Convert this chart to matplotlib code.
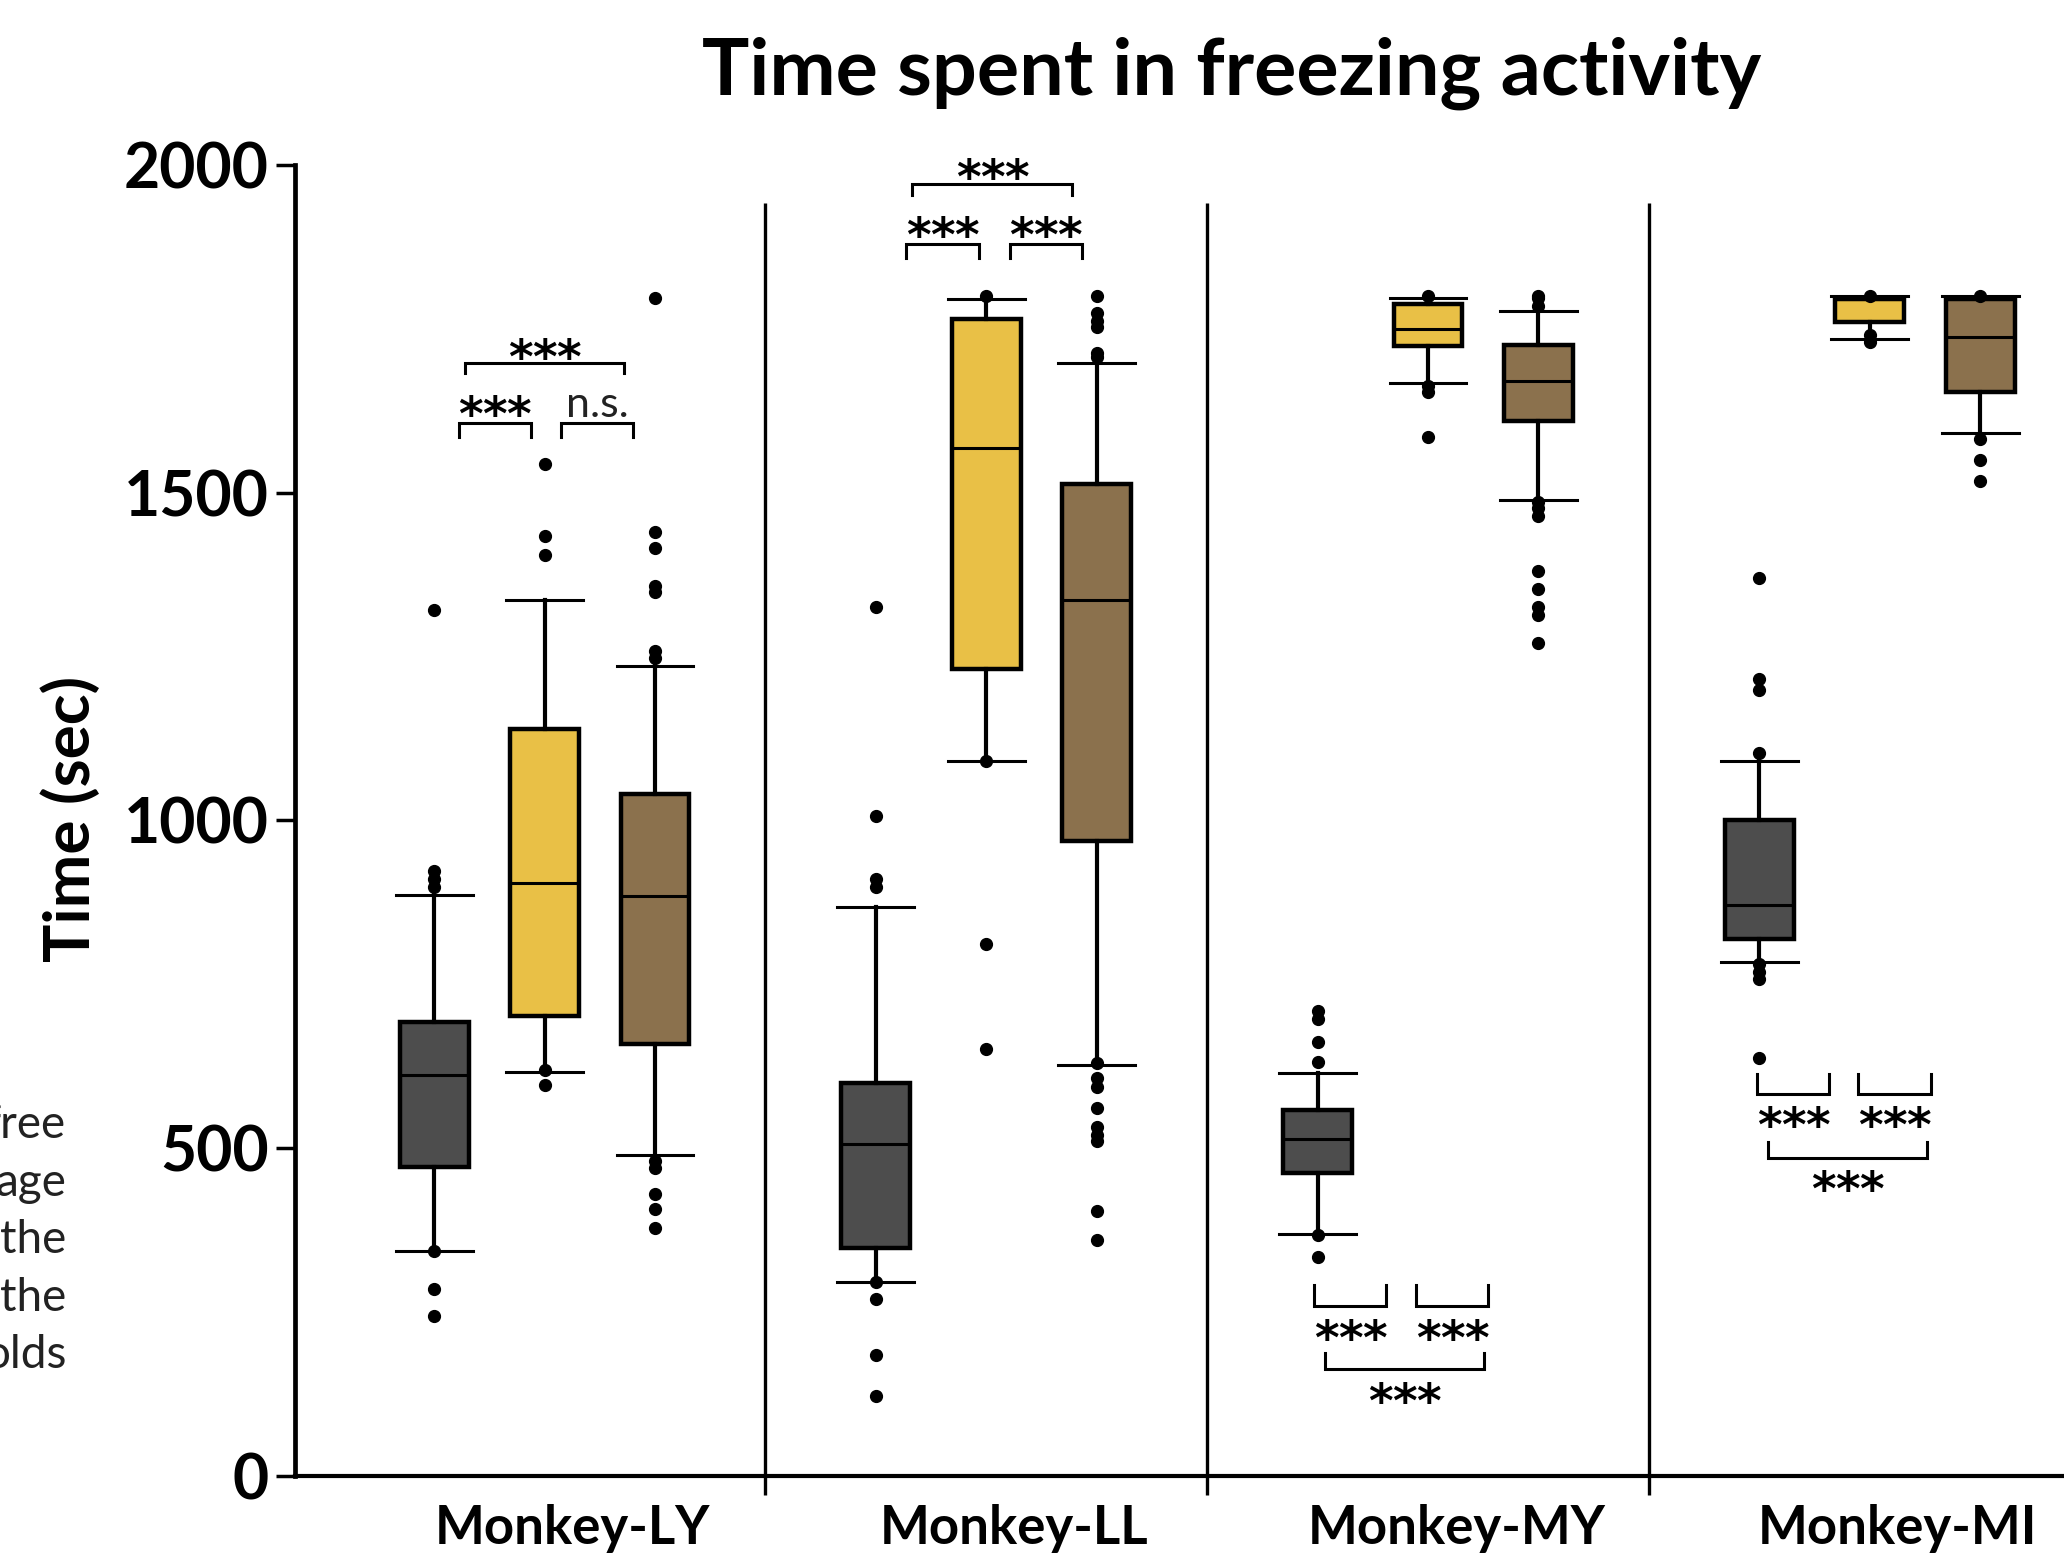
import matplotlib
matplotlib.use("Agg")
import matplotlib.pyplot as plt

# ---------------- data ----------------
monkeys = ["Monkey-LY", "Monkey-LL", "Monkey-MY", "Monkey-MI"]
conditions = ["cond_dark", "cond_yellow", "cond_brown"]

dark_lo = [344, 297, 370, 784]
dark_q1 = [471, 348, 462, 820]
dark_med = [612, 506, 515, 871]
dark_q3 = [693, 599, 558, 1000]
dark_hi = [887, 868, 615, 1090]
dark_fliers = [
    [1321, 923, 910, 899, 344, 285, 244],
    [1325, 1007, 910, 899, 297, 271, 185, 122],
    [709, 698, 662, 632, 368, 334],
    [1370, 1216, 1199, 1103, 781, 769, 758, 638],
]

yellow_lo = [617, 1090, 1667, 1734]
yellow_q1 = [702, 1231, 1723, 1760]
yellow_med = [905, 1568, 1750, 1795]
yellow_q3 = [1140, 1765, 1788, 1795]
yellow_hi = [1336, 1795, 1797, 1800]
yellow_fliers = [
    [1544, 1434, 1404, 620, 597],
    [1800, 1090, 812, 652],
    [1800, 1662, 1654, 1584],
    [1800, 1740, 1729],
]

brown_lo = [490, 627, 1489, 1590]
brown_q1 = [659, 968, 1609, 1653]
brown_med = [885, 1336, 1670, 1737]
brown_q3 = [1040, 1513, 1725, 1795]
brown_hi = [1236, 1697, 1777, 1800]
brown_fliers = [
    [1796, 1440, 1416, 1358, 1348, 1259, 1248, 480, 470, 431, 407, 378],
    [1799, 1773, 1761, 1752, 1713, 1707, 630, 607, 593, 562, 533, 521, 511, 405, 360],
    [1800, 1796, 1785, 1486, 1477, 1464, 1381, 1353, 1326, 1313, 1270],
    [1800, 1581, 1549, 1517],
]

yticks = [0, 500, 1000, 1500, 2000]

# significance annotations per monkey: (label, x0, x1, bar_y, leg_end_y, text_y)
sig_marks = [
    [("***", -0.194, -0.031, 1606, 1585, 1630),
     ("n.s.", 0.037, 0.200, 1606, 1585, 1630),
     ("***", -0.180, 0.180, 1697, 1682, 1717)],
    [("***", -0.181, -0.017, 1879, 1858, 1904),
     ("***", 0.053, 0.216, 1879, 1858, 1904),
     ("***", -0.167, 0.193, 1971, 1953, 1991)],
    [("***", -0.258, -0.095, 259, 291, 221),
     ("***", -0.027, 0.136, 259, 291, 221),
     ("***", -0.234, 0.127, 163, 188, 126)],
    [("***", -0.255, -0.092, 583, 614, 546),
     ("***", -0.026, 0.139, 583, 614, 546),
     ("***", -0.230, 0.130, 486, 510, 449)],
]

caption_fragments = ["free", "age", "the", "the", "olds"]

# ---------------- style ----------------
colors = {"dark": "#4d4d4d", "yellow": "#e9c046", "brown": "#8b714d"}
FONT = "Lato"

fig = plt.figure(figsize=(20.64, 15.67), dpi=100)
ax = fig.add_axes([295 / 2064, 1 - 1476.3 / 1567, 1 - 295 / 2064, (1476.3 - 164.6) / 1567])

series = [
    ("dark", dark_lo, dark_q1, dark_med, dark_q3, dark_hi, dark_fliers, -0.25),
    ("yellow", yellow_lo, yellow_q1, yellow_med, yellow_q3, yellow_hi, yellow_fliers, 0.0),
    ("brown", brown_lo, brown_q1, brown_med, brown_q3, brown_hi, brown_fliers, 0.25),
]

for name, lo, q1, med, q3, hi, fl, off in series:
    stats = []
    for i in range(len(monkeys)):
        stats.append(dict(whislo=lo[i], q1=q1[i], med=med[i], q3=q3[i],
                          whishi=hi[i], fliers=fl[i]))
    pos = [i + off for i in range(len(monkeys))]
    bp = ax.bxp(stats, positions=pos, widths=0.156, capwidths=0.174,
                showfliers=True, patch_artist=True,
                boxprops=dict(facecolor=colors[name], edgecolor="black", linewidth=3.2),
                medianprops=dict(color="black", linewidth=2.2),
                whiskerprops=dict(color="black", linewidth=3.0),
                capprops=dict(color="black", linewidth=2.2),
                flierprops=dict(marker="o", markerfacecolor="black",
                                markeredgecolor="black", markersize=8.5))
    for b in bp["boxes"]:
        b.set_zorder(3)
    for key in ("medians", "whiskers", "caps", "fliers"):
        for a in bp[key]:
            a.set_zorder(4)

# separators between monkeys
for i in range(len(monkeys) - 1):
    ax.plot([i + 0.5, i + 0.5], [-29, 1941], color="black", lw=2.4,
            clip_on=False, solid_capstyle="butt")

# significance brackets
STAR_STEP = 0.0543
for i, marks in enumerate(sig_marks):
    for label, x0, x1, by, ly, ty in marks:
        ax.plot([i + x0, i + x0, i + x1, i + x1], [ly, by, by, ly],
                color="black", lw=2.2, clip_on=False, solid_joinstyle="miter")
        xm = i + (x0 + x1) / 2
        if label == "n.s.":
            ax.text(xm, ty - 15, label, ha="center", va="baseline",
                    fontsize=31, family=FONT, color="#222222")
        else:
            n = len(label)
            for k, ch in enumerate(label):
                ax.text(xm + (k - (n - 1) / 2) * STAR_STEP, ty - 35, ch,
                        ha="center", va="baseline", fontsize=34,
                        fontweight="bold", family="DejaVu Sans", color="black")

ax.set_xlim(-0.565, 3.44)
ax.set_ylim(0, 2000)
ax.set_yticks(yticks)
ax.set_yticklabels([str(v) for v in yticks], fontsize=45, fontweight="bold", family=FONT)
ax.tick_params(axis="y", length=14, width=2.5, pad=5, direction="out")

ax.set_xticks([i + 0.064 for i in range(len(monkeys))])
ax.set_xticklabels(monkeys, fontsize=38, fontweight="bold", family=FONT)
ax.tick_params(axis="x", length=0, pad=20)

for s in ("top", "right"):
    ax.spines[s].set_visible(False)
ax.spines["left"].set_linewidth(3.4)
ax.spines["bottom"].set_linewidth(3.0)
ax.spines["left"].set_zorder(5)

fig.text(70 / 2064, 1 - 819 / 1567, "Time (sec)", rotation=90, ha="center", va="center",
         fontsize=46, fontweight="bold", family=FONT)

fig.text(1232 / 2064, 1 - 94.8 / 1567, "Time spent in freezing activity", ha="center",
         va="baseline", fontsize=57, fontweight="bold", family=FONT)

base_y = [1138, 1196, 1253, 1311, 1368]
for txt, by in zip(caption_fragments, base_y):
    fig.text(66 / 2064, 1 - by / 1567, txt, ha="right", va="baseline",
             fontsize=33, family=FONT, color="#222222")

fig.savefig("out.png", dpi=100)
